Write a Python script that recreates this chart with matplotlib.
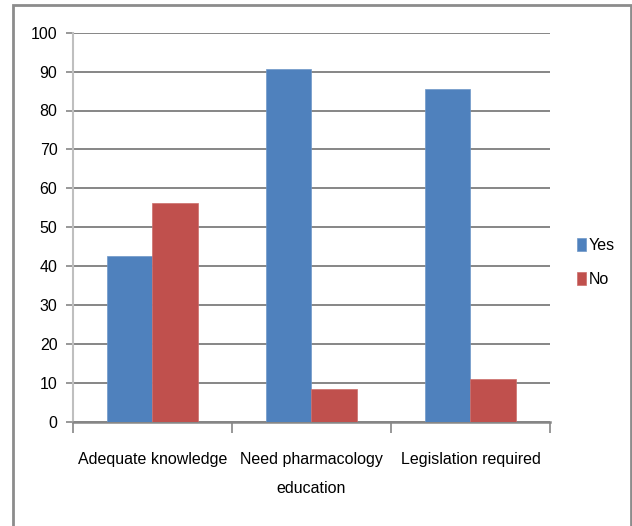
import matplotlib
matplotlib.use("Agg")
import matplotlib.pyplot as plt
from matplotlib.patches import Rectangle
import numpy as np

categories = ["Adequate knowledge", "Need pharmacology\neducation", "Legislation required"]
yes_vals = [42.7, 90.7, 85.5]
no_vals = [56.2, 8.4, 10.9]
series_names = ["Yes", "No"]
y_ticks = [0, 10, 20, 30, 40, 50, 60, 70, 80, 90, 100]

plt.rcParams['font.family'] = ['Liberation Sans', 'DejaVu Sans']

W, H = 632, 526
fig = plt.figure(figsize=(W/100, H/100), dpi=100)
fig.patch.set_facecolor("white")

# outer frame
fig.add_artist(Rectangle((13/W, -0.01), (631-13)/W, 1 - 5/H + 0.01, transform=fig.transFigure,
                         fill=False, edgecolor="#8c8c8c", linewidth=2))

ax = fig.add_axes([72.7/W, 1-421.7/H, (550-72.7)/W, (421.7-32.7)/H])
x = np.arange(len(categories))
bw = 0.285
ax.bar(x - bw/2, yes_vals, bw, color="#4F81BD", label=series_names[0], zorder=3,
       edgecolor="#6f98c8", linewidth=0.5)
ax.bar(x + bw/2, no_vals, bw, color="#C0504D", label=series_names[1], zorder=3,
       edgecolor="#cc6e6b", linewidth=0.5)

ax.set_xlim(-0.5, 2.5)
ax.set_ylim(0, 100)
ax.set_yticks(y_ticks)
ax.set_yticklabels([str(v) for v in y_ticks], fontsize=11.5)
ax.yaxis.grid(True, color="#868686", linewidth=1.4, zorder=0)
ax.set_axisbelow(True)

ax.set_xticks([-0.5, 0.5, 1.5, 2.5])
ax.set_xticklabels([])
ax.set_xticks(x, minor=True)
ax.set_xticklabels(categories, minor=True, fontsize=11.5, linespacing=2.15)
ax.tick_params(axis='x', which='major', length=8, color="#868686", width=1.2)
ax.tick_params(axis='x', which='minor', length=0, pad=22)
ax.tick_params(axis='y', length=5, color="#868686", width=1.2, pad=6)

for s in ["top", "right"]:
    ax.spines[s].set_visible(False)
ax.spines["left"].set_color("#BFBFBF")
ax.spines["left"].set_linewidth(1.5)
ax.spines["bottom"].set_color("#868686")
ax.spines["bottom"].set_linewidth(1.8)

leg = ax.legend(loc="center left", bbox_to_anchor=(577/W, 1-262.5/H), bbox_transform=fig.transFigure,
                frameon=False, fontsize=11.5, handlelength=0.57, handleheight=0.9,
                handletextpad=0.15, labelspacing=1.2, borderpad=0, borderaxespad=0)

fig.savefig("out.png", dpi=100, facecolor="white")
